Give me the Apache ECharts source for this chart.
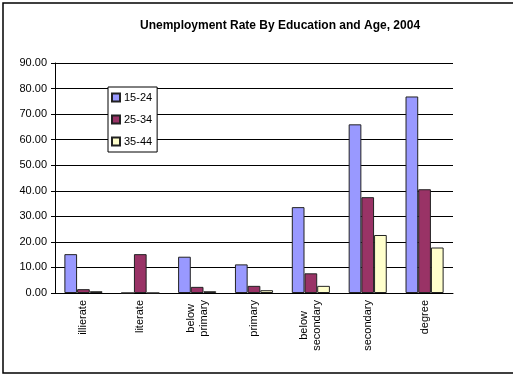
<!DOCTYPE html>
<html>
<head>
<meta charset="utf-8">
<script src="https://cdn.jsdelivr.net/npm/echarts@6/dist/echarts.min.js"></script>
<style>
  html, body { margin: 0; padding: 0; background: #fff; }
  #chart { width: 513px; height: 375px; }
</style>
</head>
<body>
<div id="chart"></div>
<script>
// Unemployment rate (%) by level of education, for three age bands
const categories = ['illierate', 'literate', 'below\nprimary', 'primary', 'below\nsecondary', 'secondary', 'degree'];
const age15to24 = [15.2, 0, 14.2, 11.2, 33.6, 66.0, 76.9];
const age25to34 = [1.5, 15.2, 2.4, 2.8, 7.7, 37.5, 40.6];
const age35to44 = [0.7, 0, 0.7, 1.1, 2.8, 22.7, 17.8];
const seriesNames = ['15-24', '25-34', '35-44'];
const yTicks = { min: 0, max: 90, interval: 10 };

const FONT = 'Liberation Sans, Arial, sans-serif';
const colors = ['#9999FF', '#993366', '#FFFFCC'];

const chart = echarts.init(document.getElementById('chart'), null, { renderer: 'canvas' });

const barSeries = [age15to24, age25to34, age35to44].map((vals, i) => ({
  name: seriesNames[i],
  type: 'bar',
  data: vals,
  barGap: '0%',
  barCategoryGap: '33%',
  itemStyle: { color: colors[i], borderColor: '#222', borderWidth: 1 },
  emphasis: { disabled: true }
}));

chart.setOption({
  animation: false,
  backgroundColor: '#fff',
  title: {
    text: 'Unemployment Rate By Education and Age, 2004',
    left: 135,
    top: 15,
    textStyle: { fontFamily: FONT, fontSize: 12, fontWeight: 'bold', color: '#000' }
  },
  graphic: [{
    type: 'rect',
    shape: { x: 3, y: 3, width: 530, height: 370 },
    style: { fill: null, stroke: '#000', lineWidth: 1.5 },
    silent: true,
    z: 0
  }],
  legend: {
    orient: 'vertical',
    left: 108,
    top: 87,
    padding: [4, 5, 4, 3],
    itemGap: 9,
    itemWidth: 8,
    itemHeight: 8,
    backgroundColor: '#fff',
    borderColor: '#000',
    borderWidth: 1,
    icon: 'rect',
    textStyle: { fontFamily: FONT, fontSize: 11, color: '#000', lineHeight: 13, padding: [0, 0, 0, -1] },
    data: seriesNames
  },
  grid: { left: 55, top: 63, right: 60, bottom: 82, containLabel: false },
  xAxis: {
    type: 'category',
    data: categories,
    axisLine: { lineStyle: { color: '#000', width: 1 } },
    axisTick: { length: 5, lineStyle: { color: '#000' } },
    axisLabel: {
      rotate: 90,
      margin: 7,
      interval: 0,
      fontFamily: FONT,
      fontSize: 11,
      color: '#000',
      formatter: v => v.split('\n').map(s => '{c|' + s + '}').join('\n'),
      rich: { c: { align: 'center', fontFamily: FONT, fontSize: 11, color: '#000', lineHeight: 13 } }
    }
  },
  yAxis: {
    type: 'value',
    min: yTicks.min,
    max: yTicks.max,
    interval: yTicks.interval,
    axisLine: { show: true, lineStyle: { color: '#000', width: 1 } },
    axisTick: { show: true, length: 4, lineStyle: { color: '#000' } },
    axisLabel: {
      margin: 8,
      fontFamily: FONT,
      fontSize: 11,
      color: '#000',
      formatter: v => v.toFixed(2)
    },
    splitLine: { lineStyle: { color: '#000', width: 1 } }
  },
  series: barSeries
});
</script>
</body>
</html>
